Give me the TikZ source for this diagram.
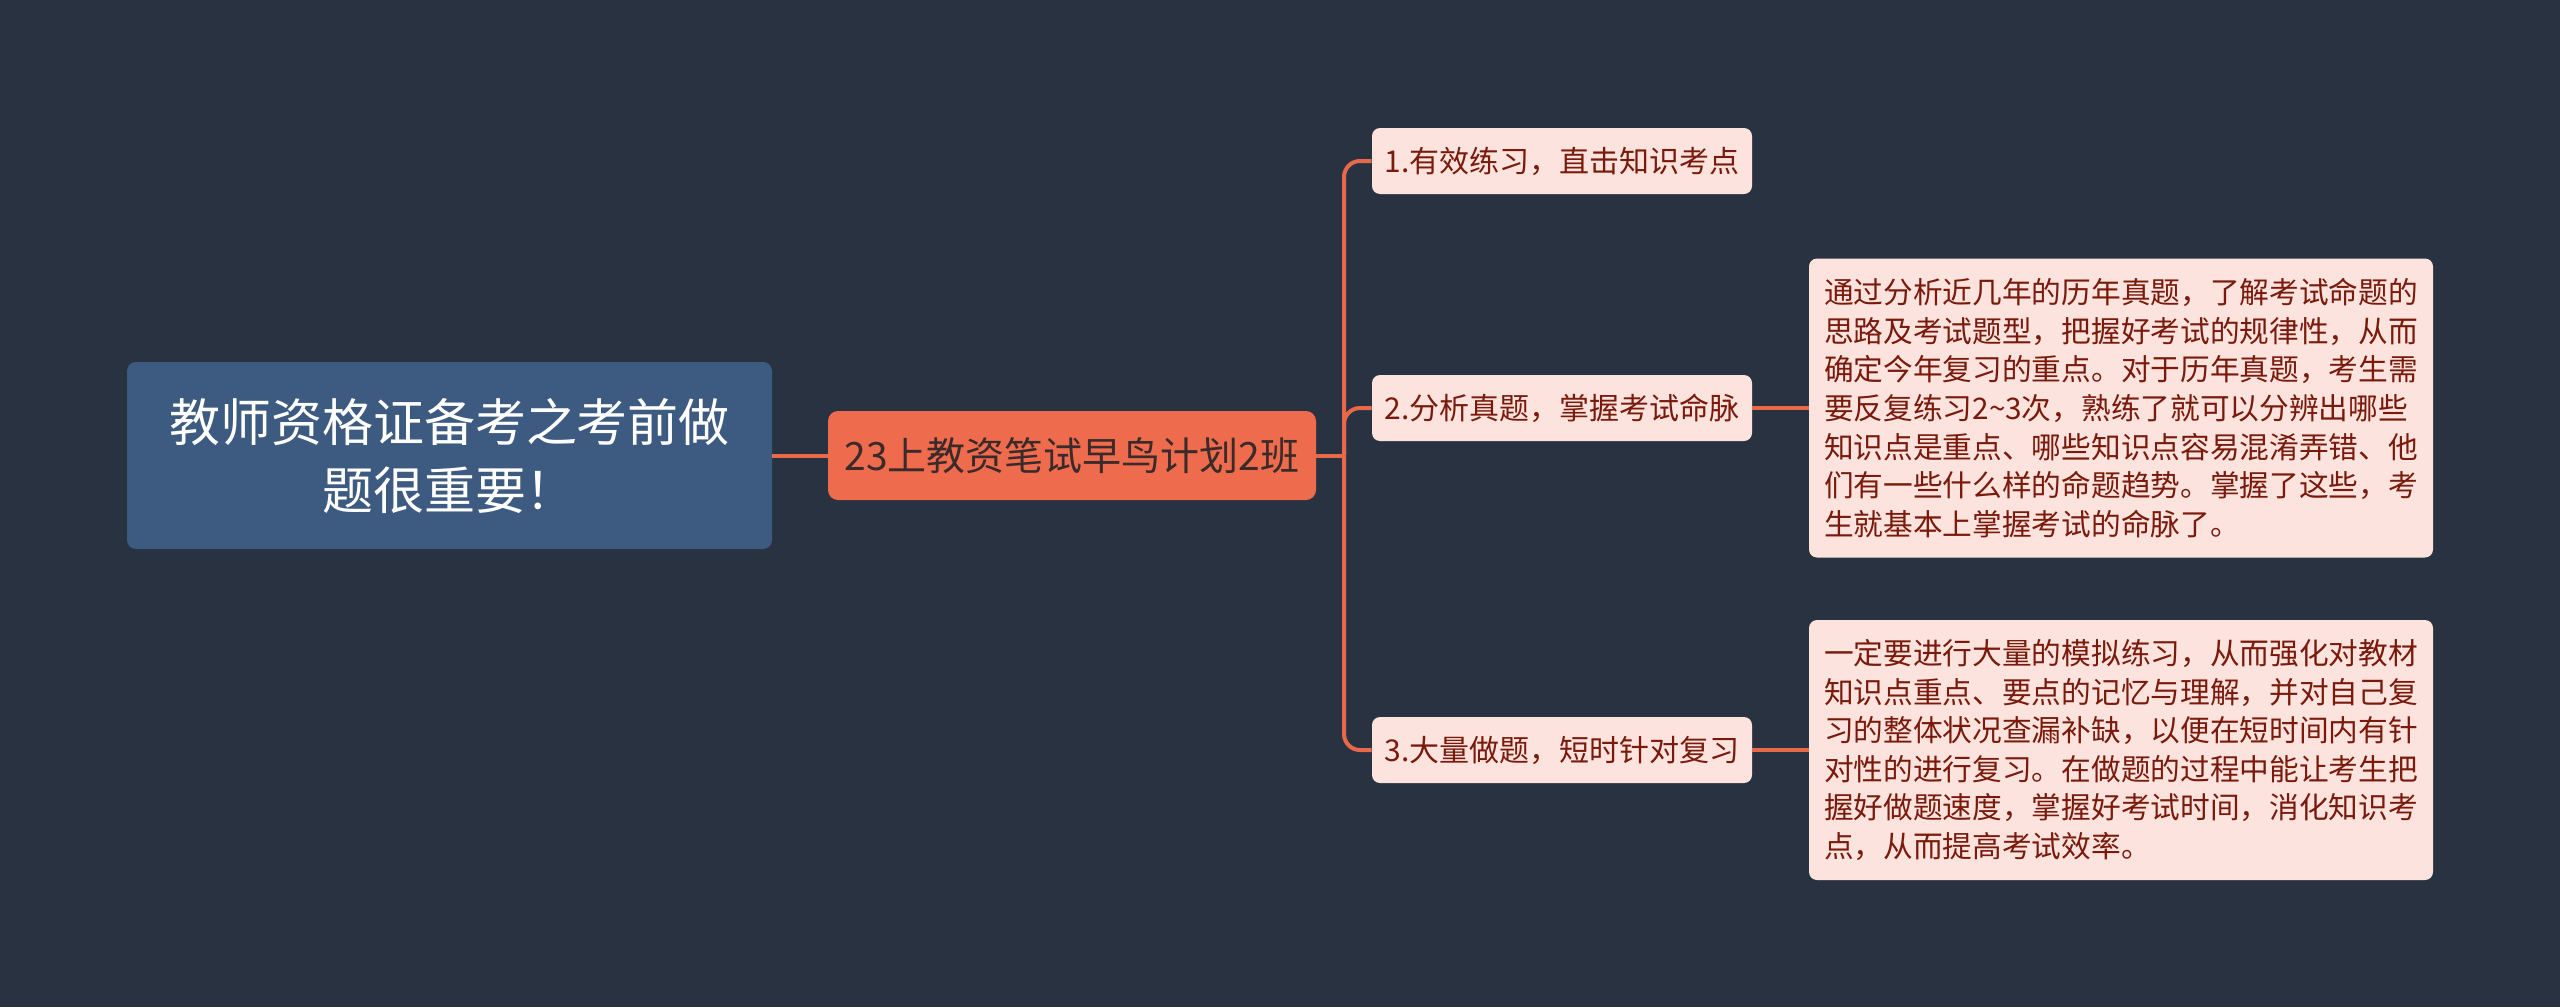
\documentclass[tikz,border=0pt]{standalone}
\usepackage{fontspec}
\setmainfont{Noto Sans CJK SC}
\definecolor{bg}{HTML}{293241}
\definecolor{rootblue}{HTML}{3D5A80}
\definecolor{mainorange}{HTML}{EE6C4D}
\definecolor{linkc}{HTML}{E8694A}
\definecolor{pinkfill}{HTML}{FCE3DD}
\definecolor{redtext}{HTML}{7A1A0C}
\definecolor{darktext}{HTML}{3A2A2A}
\begin{document}
\begin{tikzpicture}[x=0.5pt,y=-0.5pt,
  rootbox/.style={fill=rootblue, rounded corners=4.5pt, minimum width=322.5pt, minimum height=93.5pt, inner sep=0pt, text=white, font=\fontsize{25.5}{34}\selectfont, align=center},
  mainbox/.style={fill=mainorange, rounded corners=5pt, minimum width=244pt, minimum height=44.5pt, inner sep=0pt, text=darktext, font=\fontsize{19.5}{25}\selectfont},
  branchbox/.style={fill=pinkfill, rounded corners=4pt, minimum width=190pt, minimum height=33pt, inner sep=0pt, text=redtext, font=\fontsize{15}{19}\selectfont},
  leafbox/.style={fill=pinkfill, rounded corners=4pt, minimum width=312pt, inner sep=0pt, text=redtext, font=\fontsize{14.85}{19.3}\selectfont, align=left},
  link/.style={draw=linkc, line width=2pt}
]
\fill[bg] (0,0) rectangle (2560,1007);
\useasboundingbox (0,0) rectangle (2560,1007);

\node[rootbox] (root) at (449.5,455.5) {教师资格证备考之考前做\\题很重要！};
\node[mainbox] (main) at (1072,455.5) {23上教资笔试早鸟计划2班};

\node[branchbox] (b1) at (1562,161) {1.有效练习，直击知识考点};
\node[branchbox] (b2) at (1562,408) {2.分析真题，掌握考试命脉};
\node[branchbox] (b3) at (1562,750) {3.大量做题，短时针对复习};

\node[leafbox, minimum height=149.5pt] (l2) at (2121,408) {通过分析近几年的历年真题，了解考试命题的\\思路及考试题型，把握好考试的规律性，从而\\确定今年复习的重点。对于历年真题，考生需\\要反复练习2\textasciitilde 3次，熟练了就可以分辨出哪些\\知识点是重点、哪些知识点容易混淆弄错、他\\们有一些什么样的命题趋势。掌握了这些，考\\生就基本上掌握考试的命脉了。};
\node[leafbox, minimum height=130pt] (l3) at (2121,750) {一定要进行大量的模拟练习，从而强化对教材\\知识点重点、要点的记忆与理解，并对自己复\\习的整体状况查漏补缺，以便在短时间内有针\\对性的进行复习。在做题的过程中能让考生把\\握好做题速度，掌握好考试时间，消化知识考\\点，从而提高考试效率。};

\coordinate (j) at (1344,455.5);

\draw[link] (root.east) -- (main.west);
\draw[link] (main.east) -- (j);
\draw[link, rounded corners=8pt] (j) |- (b1.west);
\draw[link, rounded corners=8pt] (j) |- (b2.west);
\draw[link, rounded corners=8pt] (j) |- (b3.west);
\draw[link] (b2.east) -- (l2.west);
\draw[link] (b3.east) -- (l3.west);
\end{tikzpicture}
\end{document}
